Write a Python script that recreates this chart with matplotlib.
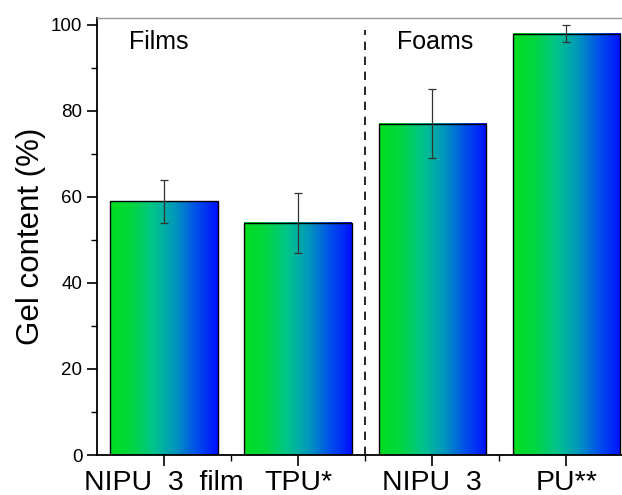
import numpy as np
import matplotlib.pyplot as plt
from matplotlib.colors import LinearSegmentedColormap
from matplotlib.ticker import MultipleLocator, FixedLocator

plt.rcParams['font.family'] = ['Liberation Sans', 'DejaVu Sans']

# data
labels = ["NIPU  3  film", "TPU*", "NIPU  3", "PU**"]
gel = [59, 54, 77, 98]
err = [5, 7, 8, 2]
groups = ["Films", "Foams"]

x = np.arange(1, len(gel) + 1)
width = 0.8

grad = LinearSegmentedColormap.from_list(
    "gb", ["#00DE1E", "#00D640", "#00C48A", "#0098BC", "#0050EA", "#0010FF"])
img = np.linspace(0, 1, 256).reshape(1, -1)

fig = plt.figure(figsize=(6.22, 4.95), dpi=100)
ax = fig.add_axes([0.156, 0.0808, 0.862, 0.8828])

bars = ax.bar(x, gel, width, color="none", edgecolor="black", linewidth=1.0, zorder=3)
for b in bars:
    x0, y0 = b.get_x(), b.get_y()
    ax.imshow(img, cmap=grad, aspect="auto", zorder=2,
              extent=(x0, x0 + b.get_width(), y0, y0 + b.get_height()))

ax.errorbar(x, gel, yerr=err, fmt="none", ecolor="#333333", elinewidth=0.9,
            capsize=3.0, capthick=0.9, zorder=4)

ax.axvline(2.5, ymin=0, ymax=0.972, color="black", linestyle=(0, (5, 4)), linewidth=1.2)

ax.text(0.96, 96, groups[0], fontsize=18, ha="center", va="center")
ax.text(3.02, 96, groups[1], fontsize=18, ha="center", va="center")

ax.set_xlim(0.5, 4.5)
ax.set_ylim(0, 101.6)
ax.set_xticks(x)
ax.set_xticklabels(labels, fontsize=20.5)
ax.xaxis.set_minor_locator(FixedLocator([1.5, 2.5, 3.5]))
ax.yaxis.set_major_locator(MultipleLocator(20))
ax.yaxis.set_minor_locator(MultipleLocator(10))
ax.tick_params(axis="y", which="major", length=7, width=1.2, labelsize=13.5, direction="out")
ax.tick_params(axis="y", which="minor", length=4, width=1.0, direction="out")
ax.tick_params(axis="x", which="major", length=8, width=1.2, pad=3, direction="out")
ax.tick_params(axis="x", which="minor", length=4, width=1.0, direction="out")
ax.set_ylabel("Gel content (%)", fontsize=22.5, labelpad=4)

ax.spines["left"].set_linewidth(1.3)
ax.spines["bottom"].set_linewidth(1.3)
ax.spines["top"].set_color("#999999")
ax.spines["top"].set_linewidth(1.0)
ax.spines["right"].set_visible(False)

fig.savefig("out.png", dpi=100)
